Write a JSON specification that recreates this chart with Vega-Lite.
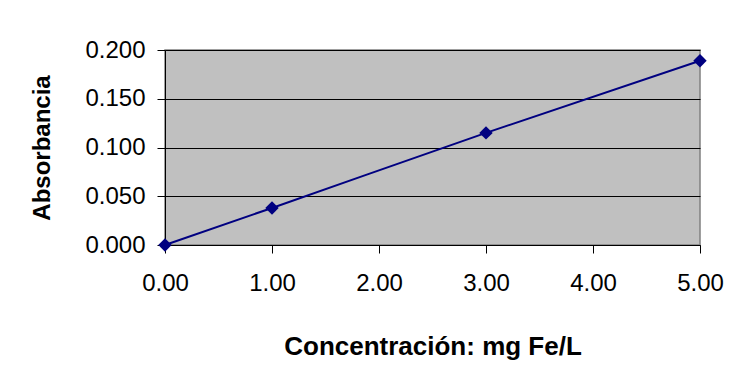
{
  "$schema": "https://vega.github.io/schema/vega-lite/v6.json",
  "width": 535,
  "height": 195,
  "autosize": "none",
  "padding": {"left": 165, "top": 50, "right": 37, "bottom": 126},
  "background": "white",
  "config": {
    "font": "Liberation Sans",
    "view": {"fill": "#C0C0C0", "stroke": "#808080", "strokeWidth": 1.5}
  },
  "data": {
    "values": [
      {"conc": 0, "abs": 0.0},
      {"conc": 1, "abs": 0.038},
      {"conc": 3, "abs": 0.115},
      {"conc": 5, "abs": 0.189}
    ]
  },
  "encoding": {
    "x": {
      "field": "conc", "type": "quantitative",
      "scale": {"domain": [0, 5], "nice": false, "zero": false},
      "axis": {
        "title": "Concentración: mg Fe/L",
        "values": [0, 1, 2, 3, 4, 5],
        "format": ".2f",
        "grid": false,
        "labelFlush": false,
        "labelOverlap": false,
        "domainColor": "black",
        "tickColor": "black",
        "tickSize": 8,
        "labelFontSize": 24,
        "labelColor": "black",
        "labelPadding": 18,
        "titleFontSize": 26,
        "titleFontWeight": "bold",
        "titleColor": "black",
        "titlePadding": 38
      }
    },
    "y": {
      "field": "abs", "type": "quantitative",
      "scale": {"domain": [0, 0.2], "nice": false},
      "axis": {
        "title": "Absorbancia",
        "values": [0, 0.05, 0.1, 0.15, 0.2],
        "format": ".3f",
        "grid": true,
        "labelFlush": false,
        "labelOverlap": false,
        "gridColor": "black",
        "gridWidth": 1,
        "gridOpacity": 1,
        "domainColor": "black",
        "tickColor": "black",
        "tickSize": 8,
        "labelFontSize": 24,
        "labelColor": "black",
        "labelPadding": 12,
        "titleFontSize": 24,
        "titleFontWeight": "bold",
        "titleColor": "black",
        "titlePadding": 30
      }
    }
  },
  "layer": [
    {"mark": {"type": "line", "color": "#000080", "strokeWidth": 2, "interpolate": "monotone"}},
    {"mark": {"type": "point", "shape": "diamond", "filled": true, "color": "#000080", "size": 180, "opacity": 1}}
  ]
}
